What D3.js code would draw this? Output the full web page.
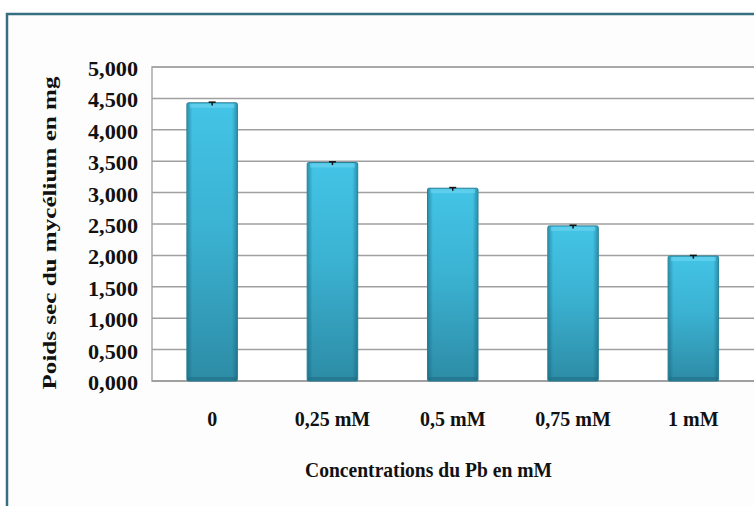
<!DOCTYPE html>
<html>
<head>
<meta charset="utf-8">
<script src="https://cdn.jsdelivr.net/npm/d3@7"></script>
<style>
  html, body { margin: 0; padding: 0; background: #ffffff; }
  svg { display: block; }
  text { font-family: "Liberation Serif", "Times New Roman", serif; font-weight: bold; fill: #111; }
</style>
</head>
<body>
<svg id="chart" width="754" height="506"></svg>
<script>
// Dry mycelium weight by lead concentration
const categories = ["0", "0,25 mM", "0,5 mM", "0,75 mM", "1 mM"];
const weights = [4.43, 3.48, 3.07, 2.47, 1.99];
const errors = [0.01, 0.01, 0.01, 0.01, 0.01];
const yTicks = [0, 0.5, 1, 1.5, 2, 2.5, 3, 3.5, 4, 4.5, 5];
const yTitle = "Poids sec du mycélium en mg";
const xTitle = "Concentrations du Pb en mM";

const svg = d3.select("#chart");
const W = 754, H = 506;
const plot = { left: 152, right: 753.5, top: 67, bottom: 381 };

// Outer chart frame (runs off the right and bottom edges)
svg.append("rect")
  .attr("x", 7).attr("y", 14)
  .attr("width", W + 20).attr("height", H + 20)
  .attr("fill", "#fdfdfd")
  .attr("stroke", "#356f80").attr("stroke-width", 2.5);

const x = d3.scaleBand()
  .domain(categories)
  .range([plot.left, plot.right])
  .paddingInner(0.58)
  .paddingOuter(0.29);

const y = d3.scaleLinear().domain([0, 5]).range([plot.bottom, plot.top]);

const fmt = v => d3.format(".3f")(v).replace(".", ",");

// Plot area background
svg.append("rect")
  .attr("x", plot.left).attr("y", plot.top)
  .attr("width", W - plot.left + 10).attr("height", plot.bottom - plot.top)
  .attr("fill", "#ffffff")
  .attr("stroke", "#a9a9a9").attr("stroke-width", 1.5);

// Horizontal gridlines
svg.append("g")
  .selectAll("line")
  .data(yTicks.filter(t => t > 0))
  .join("line")
  .attr("x1", plot.left).attr("x2", W)
  .attr("y1", d => y(d)).attr("y2", d => y(d))
  .attr("stroke", "#a0a0a0").attr("stroke-width", 1.5);

// Category axis baseline
svg.append("line")
  .attr("x1", plot.left).attr("x2", W)
  .attr("y1", plot.bottom).attr("y2", plot.bottom)
  .attr("stroke", "#a0a0a0").attr("stroke-width", 2);

// Value axis labels
const yAxis = d3.axisLeft(y).tickValues(yTicks).tickFormat(fmt).tickSize(0).tickPadding(14);
const gy = svg.append("g").attr("transform", `translate(${plot.left},0)`).call(yAxis);
gy.select(".domain").remove();
gy.selectAll("text")
  .attr("font-size", 20)
  .attr("dy", "0.42em")
  .attr("textLength", 50)
  .attr("lengthAdjust", "spacingAndGlyphs")
  .style("font-family", "'Liberation Serif', 'Times New Roman', serif")
  .style("font-weight", "bold")
  .attr("fill", "#111");

// Category axis labels
const xAxis = d3.axisBottom(x).tickSize(0).tickPadding(0);
const gx = svg.append("g").attr("transform", `translate(0,${plot.bottom})`).call(xAxis);
gx.select(".domain").remove();
gx.selectAll("text")
  .attr("y", 45)
  .attr("dy", 0)
  .attr("font-size", 20)
  .style("font-family", "'Liberation Serif', 'Times New Roman', serif")
  .style("font-weight", "bold")
  .attr("fill", "#111");

// Bar shading
const defs = svg.append("defs");
const vg = defs.append("linearGradient").attr("id", "barFill")
  .attr("x1", 0).attr("y1", 0).attr("x2", 0).attr("y2", 1);
vg.append("stop").attr("offset", "0%").attr("stop-color", "#43c4e6");
vg.append("stop").attr("offset", "45%").attr("stop-color", "#3bb2d2");
vg.append("stop").attr("offset", "100%").attr("stop-color", "#2d8ca6");

const hg = defs.append("linearGradient").attr("id", "barEdge")
  .attr("x1", 0).attr("y1", 0).attr("x2", 1).attr("y2", 0);
hg.append("stop").attr("offset", "0%").attr("stop-color", "#0e5a70").attr("stop-opacity", 0.45);
hg.append("stop").attr("offset", "10%").attr("stop-color", "#0e5a70").attr("stop-opacity", 0.0);
hg.append("stop").attr("offset", "90%").attr("stop-color", "#0e5a70").attr("stop-opacity", 0.0);
hg.append("stop").attr("offset", "100%").attr("stop-color", "#0e5a70").attr("stop-opacity", 0.45);

const bars = svg.append("g");
const data = categories.map((c, i) => ({ c, v: weights[i], e: errors[i] }));

bars.selectAll("rect.bar")
  .data(data)
  .join("rect")
  .attr("class", "bar")
  .attr("x", d => x(d.c))
  .attr("y", d => y(d.v))
  .attr("width", x.bandwidth())
  .attr("height", d => y(0) - y(d.v))
  .attr("rx", 1.5)
  .attr("fill", "url(#barFill)")
  .attr("stroke", "#2a7d94").attr("stroke-width", 1);

bars.selectAll("rect.edge")
  .data(data)
  .join("rect")
  .attr("class", "edge")
  .attr("x", d => x(d.c) + 0.5)
  .attr("y", d => y(d.v) + 0.5)
  .attr("width", x.bandwidth() - 1)
  .attr("height", d => y(0) - y(d.v) - 1)
  .attr("fill", "url(#barEdge)");

// Light bevel along the top of each bar
bars.selectAll("rect.top")
  .data(data)
  .join("rect")
  .attr("class", "top")
  .attr("x", d => x(d.c) + 3)
  .attr("y", d => y(d.v) + 1)
  .attr("width", x.bandwidth() - 6)
  .attr("height", 4)
  .attr("fill", "#6fd6f0").attr("opacity", 0.6);

// Darker bevel along the bottom of each bar
bars.selectAll("rect.base")
  .data(data)
  .join("rect")
  .attr("class", "base")
  .attr("x", d => x(d.c) + 1)
  .attr("y", y(0) - 4)
  .attr("width", x.bandwidth() - 2)
  .attr("height", 3.5)
  .attr("fill", "#1f6c82").attr("opacity", 0.55);

// Error bars
const eb = svg.append("g").attr("stroke", "#111").attr("stroke-width", 1.5);
data.forEach(d => {
  const cx = x(d.c) + x.bandwidth() / 2;
  eb.append("line").attr("x1", cx).attr("x2", cx).attr("y1", y(d.v + d.e)).attr("y2", y(d.v - d.e) + 2);
  eb.append("line").attr("x1", cx - 3.5).attr("x2", cx + 3.5).attr("y1", y(d.v + d.e)).attr("y2", y(d.v + d.e));
});

// Axis titles
svg.append("text")
  .attr("transform", `translate(56,233) rotate(-90)`)
  .attr("text-anchor", "middle")
  .attr("font-size", 19)
  .attr("textLength", 313)
  .attr("lengthAdjust", "spacingAndGlyphs")
  .text(yTitle);

svg.append("text")
  .attr("x", 305)
  .attr("y", 477)
  .attr("font-size", 21)
  .attr("textLength", 247)
  .attr("lengthAdjust", "spacingAndGlyphs")
  .text(xTitle);
</script>
</body>
</html>
